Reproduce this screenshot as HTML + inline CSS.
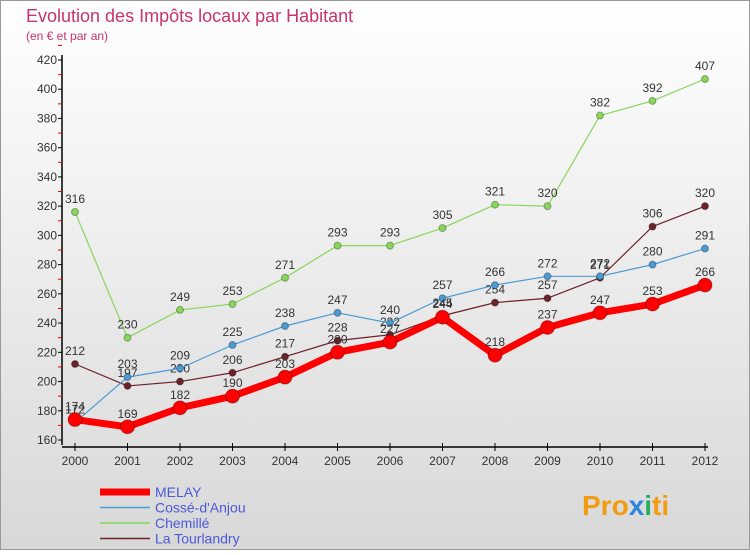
<!DOCTYPE html>
<html><head><meta charset="utf-8"><style>
body{margin:0;width:750px;height:550px;overflow:hidden;font-family:"Liberation Sans",sans-serif}
</style></head><body>
<svg id="c" width="750" height="550" xmlns="http://www.w3.org/2000/svg">
<defs><linearGradient id="bg" x1="0" y1="0" x2="0" y2="1"><stop offset="0" stop-color="#ffffff"/><stop offset="1" stop-color="#d8d8d8"/></linearGradient></defs>
<rect x="0.5" y="0.5" width="749" height="549" fill="url(#bg)" stroke="#999"/>
<text x="26" y="22" font-size="18" fill="#c8326e">Evolution des Impôts locaux par Habitant</text>
<text x="26" y="40" font-size="12" fill="#c8326e">(en € et par an)</text>
<g id="axes"></g><g id="series"></g><g id="legend"></g>
<text x="582" y="515" font-size="28" font-weight="bold" fill="#f39c12">Pro<tspan fill="#2e86de">x</tspan><tspan fill="#27ae60">i</tspan><tspan fill="#f39c12">ti</tspan></text>
</svg>
<script>
const years=[2000,2001,2002,2003,2004,2005,2006,2007,2008,2009,2010,2011,2012];
const melay=[174,169,182,190,203,220,227,244,218,237,247,253,266];
const cosse=[172,203,209,225,238,247,240,257,266,272,272,280,291];
const chemille=[316,230,249,253,271,293,293,305,321,320,382,392,407];
const tourlandry=[212,197,200,206,217,228,232,245,254,257,271,306,320];
const yTicks=[160,180,200,220,240,260,280,300,320,340,360,380,400,420];
const seriesNames=["MELAY","Cossé-d'Anjou","Chemillé","La Tourlandry"];
const NS="http://www.w3.org/2000/svg";
const X=i=>75+i*(630/(years.length-1));
const Y=v=>440-(v-160)*(380/260);
function mk(t,a,p){const e=document.createElementNS(NS,t);for(const k in a)e.setAttribute(k,a[k]);p.appendChild(e);return e;}
const ax=document.getElementById('axes');
let l=mk('line',{x1:62,y1:55,x2:62,y2:445,stroke:'#000','stroke-width':1.5},ax);


l=mk('line',{x1:62,y1:447,x2:708,y2:447,stroke:'#000','stroke-width':1.5},ax);


yTicks.forEach(v=>{const t=mk('text',{x:57,y:Y(v)+4,'font-size':12,'text-anchor':'end',fill:'#333'},ax);t.textContent=v;


mk('line',{x1:58,y1:Y(v),x2:62,y2:Y(v),stroke:'#000'},ax);
mk('line',{x1:58,y1:Y(v+10),x2:62,y2:Y(v+10),stroke:'#e00'},ax);});
years.forEach((yr,i)=>{mk('line',{x1:X(i),y1:443,x2:X(i),y2:451,stroke:'#000'},ax);
const t=mk('text',{x:X(i),y:465,'font-size':12,'text-anchor':'middle',fill:'#333'},ax);t.textContent=yr;

});
const sg=document.getElementById('series');
const defs=[[tourlandry,'#6b2228',1.2,3.5,'series-la-tourlandry'],[chemille,'#88d65a',1.2,3.5,'series-chemille'],[cosse,'#4a9ad4',1.2,3.5,'series-cosse-danjou'],[melay,'#ff0000',7,7,'series-melay']];
defs.forEach(([d,c,w,r,n])=>{const g=mk('g',{},sg);


mk('polyline',{points:d.map((v,i)=>X(i)+','+Y(v)).join(' '),fill:'none',stroke:c,'stroke-width':w,'stroke-linejoin':'round'},g);
d.forEach((v,i)=>{mk('circle',{cx:X(i),cy:Y(v),r:r,fill:c,stroke:'rgba(0,0,0,0.3)'},g);
const t=mk('text',{x:X(i),y:Y(v)-9,'font-size':12,'text-anchor':'middle',fill:'#333'},g);t.textContent=v;});});
const lg=document.getElementById('legend');
[['#ff0000',7],['#4a9ad4',1.5],['#88d65a',1.5],['#6b2228',1.5]].forEach(([c,w],i)=>{const yy=492+i*15.5;
const g=mk('g',{},lg);


mk('line',{x1:100,y1:yy,x2:150,y2:yy,stroke:c,'stroke-width':w},g);
const t=mk('text',{x:155,y:yy+5,'font-size':14,fill:'#4a5ad8'},g);t.textContent=seriesNames[i];});
</script>
</body></html>
